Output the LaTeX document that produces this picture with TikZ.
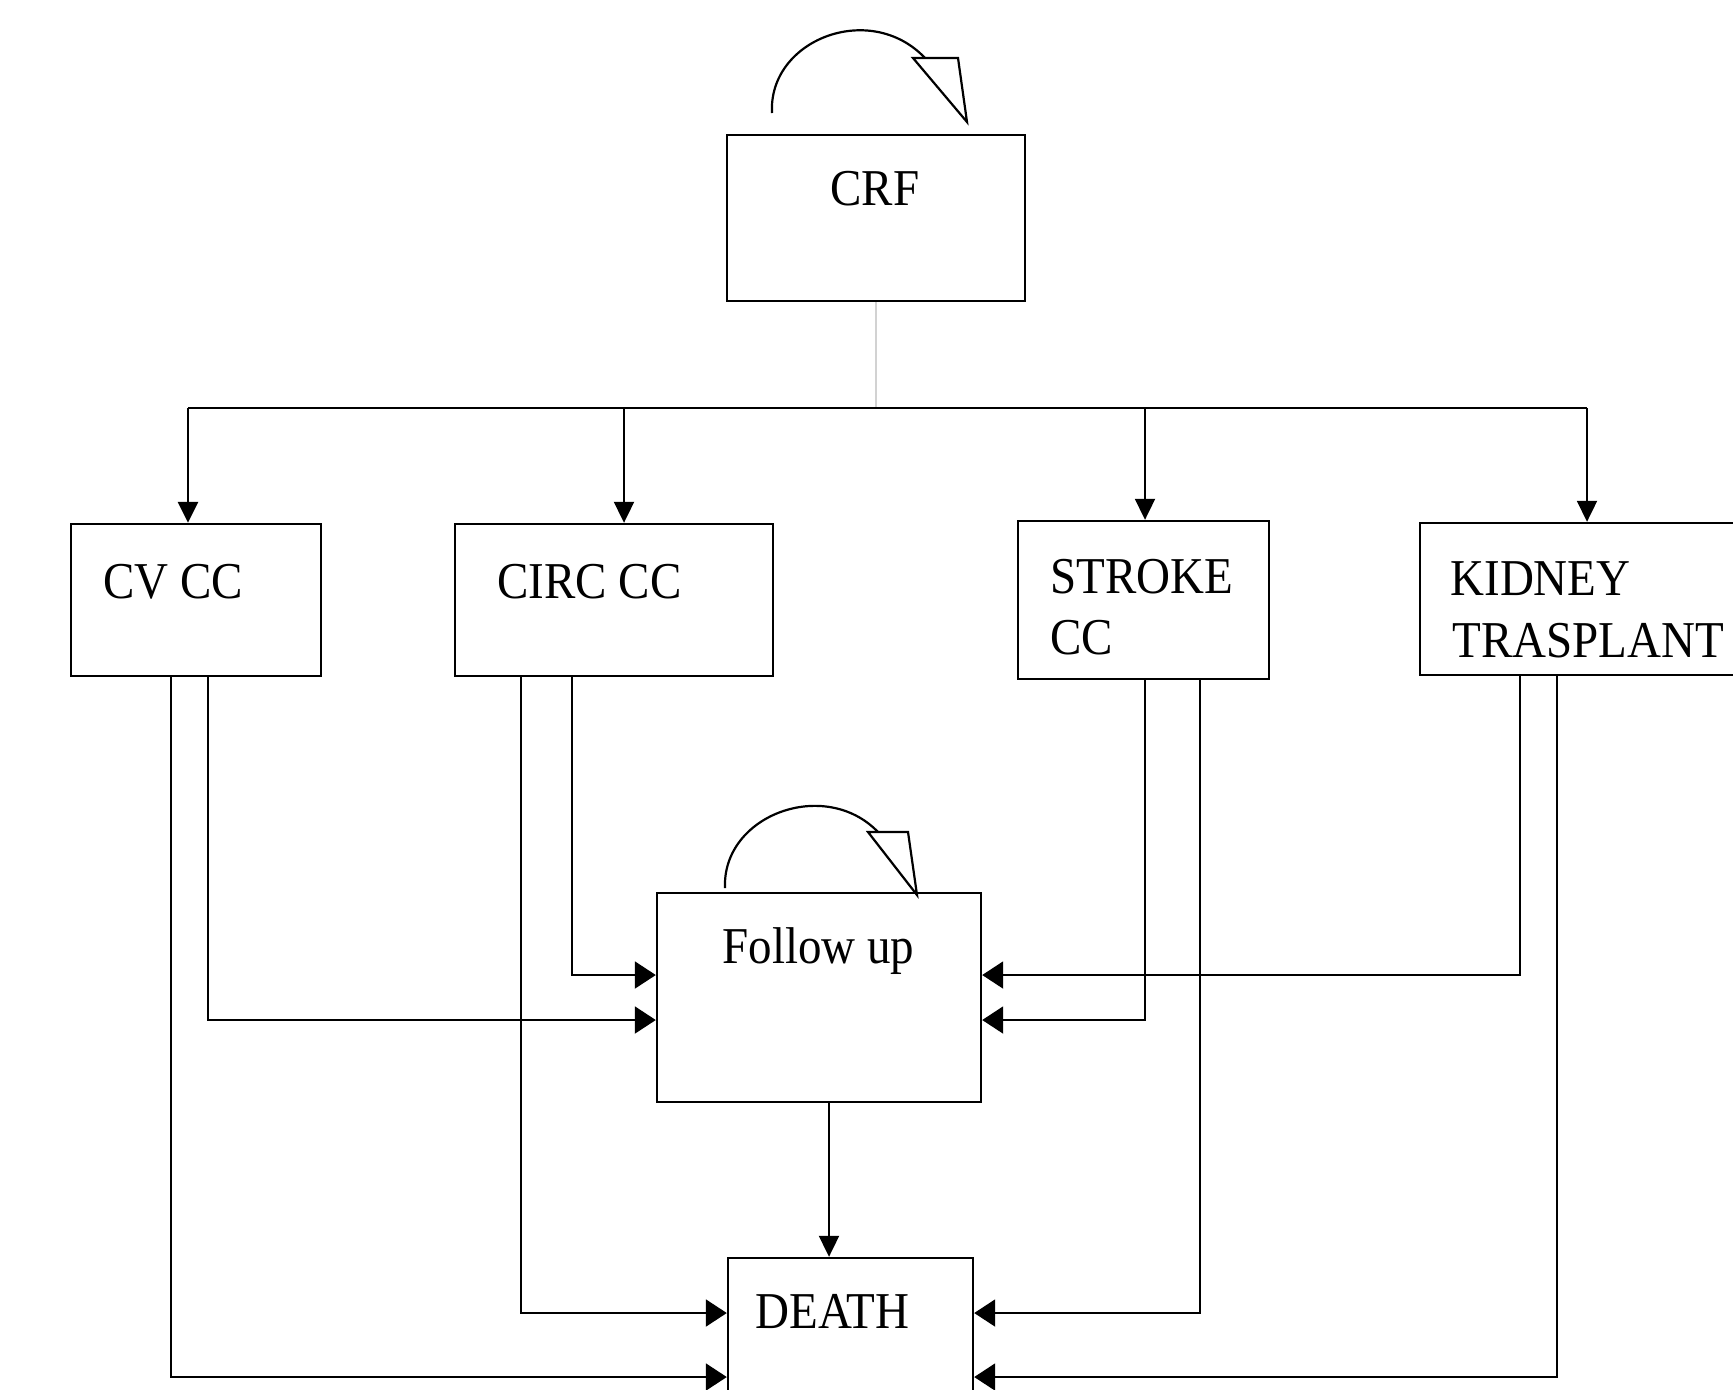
\documentclass[tikz,border=0pt]{standalone}
\usepackage{fontspec}
\setmainfont{Liberation Serif}
\usetikzlibrary{arrows.meta}
\begin{document}
\begin{tikzpicture}[x=0.5pt,y=-0.5pt,
  box/.style={draw,line width=1.2pt,rectangle,inner sep=0pt},
  lbl/.style={anchor=base west,inner sep=0pt,font=\fontsize{23.5}{28}\selectfont},
  conn/.style={line width=1pt},
  harr/.style={conn,-{Triangle[length=10.5pt,width=13.5pt]}},
  varr/.style={conn,-{Triangle[length=10.5pt,width=10pt]}},
  loop/.style={line width=1.1pt}
]
\clip (0,0) rectangle (1733,1389);
\fill[white] (0,0) rectangle (1733,1389);

% boxes
\node[box,minimum width=149pt,minimum height=83pt] (crf) at (876,218) {};
\node[box,minimum width=125pt,minimum height=76pt] (cv) at (196,600) {};
\node[box,minimum width=159pt,minimum height=76pt] (circ) at (614,600) {};
\node[box,minimum width=125.5pt,minimum height=79pt] (stroke) at (1143.5,600) {};
\node[box,minimum width=185pt,minimum height=76pt] (kidney) at (1605,599) {};
\node[box,minimum width=162pt,minimum height=104.5pt] (follow) at (819,997.5) {};
\node[box,minimum width=122.5pt,minimum height=96pt] (death) at (850.5,1354) {};

% labels
\node[lbl] (tcrf) at (830,205) {\scalebox{1}[1.1]{CRF}};
\node[lbl] (tcv) at (103,598) {\scalebox{1}[1.1]{CV CC}};
\node[lbl] (tcirc) at (497,598) {\scalebox{1}[1.1]{CIRC CC}};
\node[lbl] (tstroke1) at (1050,593) {\scalebox{1}[1.1]{STROKE}};
\node[lbl] (tstroke2) at (1050,654) {\scalebox{1}[1.1]{CC}};
\node[lbl] (tkid1) at (1450,595) {\scalebox{1}[1.1]{KIDNEY}};
\node[lbl] (tkid2) at (1452,657) {\scalebox{1}[1.1]{TRASPLANT}};
\node[lbl] (tfol) at (722,963) {\scalebox{1}[1.1]{Follow up}};
\node[lbl] (tdeath) at (755,1328) {\scalebox{1}[1.1]{DEATH}};

% helper coordinates
\coordinate (busL) at (188,408);
\coordinate (busR) at (1587,408);
\coordinate (xcv) at (188,0);
\coordinate (xcirc) at (624,0);
\coordinate (xstroke) at (1145,0);
\coordinate (xkid) at (1587,0);
\coordinate (cvA) at (171,0);
\coordinate (cvB) at (208,0);
\coordinate (ciA) at (521,0);
\coordinate (ciB) at (572,0);
\coordinate (stA) at (1145,0);
\coordinate (stB) at (1200,0);
\coordinate (kiA) at (1520,0);
\coordinate (kiB) at (1557,0);
\coordinate (xfd) at (829,0);
\coordinate (yF1) at (0,975);
\coordinate (yF2) at (0,1020);
\coordinate (yD1) at (0,1313);
\coordinate (yD2) at (0,1377);

% CRF to bus
\draw[conn,gray!35] (crf.south) -- (crf.south |- busL);
\draw[conn] (busL) -- (busR);
\draw[varr,line width=1.4pt] (busL) -- (cv.north -| xcv);
\draw[varr] (busL -| xcirc) -- (circ.north -| xcirc);
\draw[varr] (busL -| xstroke) -- (stroke.north -| xstroke);
\draw[varr] (busR) -- (kidney.north -| xkid);

% to follow up
\draw[harr] (cv.south -| cvB) |- (follow.west |- yF2);
\draw[harr] (circ.south -| ciB) |- (follow.west |- yF1);
\draw[harr] (stroke.south -| stA) |- (follow.east |- yF2);
\draw[harr] (kidney.south -| kiA) |- (follow.east |- yF1);

% to death
\draw[harr] (cv.south -| cvA) |- (death.west |- yD2);
\draw[harr] (circ.south -| ciA) |- (death.west |- yD1);
\draw[harr] (stroke.south -| stB) |- (death.east |- yD1);
\draw[harr] (kidney.south -| kiB) |- (death.east |- yD2);
\draw[varr] (follow.south -| xfd) -- (death.north -| xfd);

% self loops
\coordinate (crfS) at (772,113);
\coordinate (crfE) at (925,58);
\draw[loop] (crfS) .. controls (768,40) and (870,0) .. (crfE);
\draw[loop,fill=white] (913,58) -- (958,58) -- (967,122) -- cycle;

\coordinate (folS) at (725,888);
\coordinate (folE) at (878,832);
\draw[loop] (folS) .. controls (722,815) and (825,777) .. (folE);
\draw[loop,fill=white] (868,832) -- (908,832) -- (917,895) -- cycle;
\end{tikzpicture}
\end{document}
